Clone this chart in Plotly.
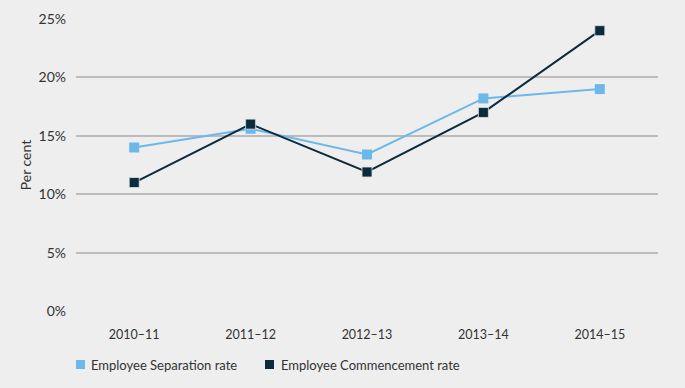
import plotly.graph_objects as go

years = ["2010–11", "2011–12", "2012–13", "2013–14", "2014–15"]
separation = [14.0, 15.6, 13.4, 18.2, 19.0]
commencement = [11.0, 16.0, 11.9, 17.0, 24.0]
y_ticks = [0, 5, 10, 15, 20, 25]
y_tick_labels = ["0%", "5%", "10%", "15%", "20%", "25%"]
series_names = ["Employee Separation rate", "Employee Commencement rate"]

sep_color = "#6cb8ea"
com_color = "#0c2b3c"
bg = "#eeeeee"
text_color = "#333333"

W, H = 685, 388
ML, MR, MT, MB = 76, 27, 19, 77
PW, PH = W - ML - MR, H - MT - MB


def px_x(x):
    return (x - ML) / PW


def px_y(y):
    return (H - MB - y) / PH


fig = go.Figure()
fig.add_trace(go.Scatter(
    x=years, y=separation, name=series_names[0],
    mode="lines+markers", showlegend=False,
    line=dict(color=sep_color, width=2),
    marker=dict(symbol="square", size=10, color=sep_color),
))
fig.add_trace(go.Scatter(
    x=years, y=commencement, name=series_names[1],
    mode="lines+markers", showlegend=False,
    line=dict(color=com_color, width=2),
    marker=dict(symbol="square", size=10, color=com_color,
                line=dict(color="#dde3e6", width=0.8)),
))

# Legend: square swatches + labels below the plot
legend_items = [(series_names[0], sep_color, 76, 89), (series_names[1], com_color, 265, 279)]
for name, color, sq_x, tx_x in legend_items:
    fig.add_shape(type="rect", xref="paper", yref="paper",
                  x0=px_x(sq_x), x1=px_x(sq_x + 9), y0=px_y(369), y1=px_y(360),
                  fillcolor=color, line=dict(width=0))
    fig.add_annotation(xref="paper", yref="paper", x=px_x(tx_x), y=px_y(364.5),
                       xanchor="left", yanchor="middle", showarrow=False,
                       text=name, font=dict(size=13, color=text_color))

fig.update_layout(
    width=W, height=H,
    paper_bgcolor=bg, plot_bgcolor=bg,
    margin=dict(l=ML, r=MR, t=MT, b=MB),
    font=dict(family="Lato, sans-serif", size=13, color=text_color),
    showlegend=False,
    xaxis=dict(type="category", range=[-0.5, 4.5], showgrid=False, automargin=False,
               zeroline=False, showline=False, ticks="", ticklen=0,
               ticklabelstandoff=14,
               tickfont=dict(size=12.5, color=text_color)),
    yaxis=dict(range=[0, 25], tickvals=y_ticks, ticktext=y_tick_labels, automargin=False,
               showgrid=True, gridcolor="#bcbcbc", gridwidth=1.5,
               zeroline=False, showline=False, ticks="",
               ticklabelstandoff=9,
               tickfont=dict(size=14, color=text_color),
               title=dict(text="Per cent", font=dict(size=14, color=text_color), standoff=3)),
)

fig.write_html("out.html", config={"displayModeBar": False},
               post_script="document.body.style.margin='0';document.body.style.background='#eeeeee';")
